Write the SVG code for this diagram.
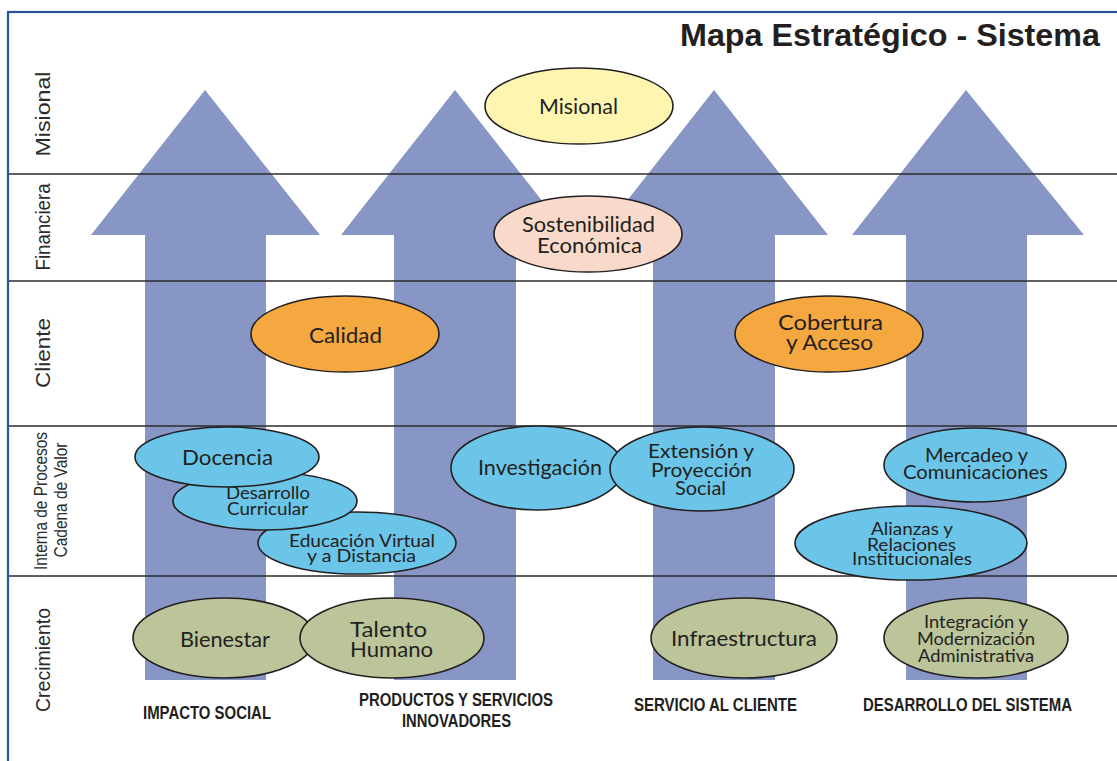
<svg xmlns="http://www.w3.org/2000/svg" width="1117" height="761" viewBox="0 0 1117 761">
<style>
.arrow{fill:#8796c4;stroke:none}
.row{stroke:#2b2b2b;stroke-width:1.3;fill:none}
.node{stroke:#231f20;stroke-width:1.6}
.yel{fill:#fdf5b0}.pea{fill:#f9d9c9}.ora{fill:#f5a840}.cya{fill:#6bc5e8}.oli{fill:#bcc59a}
.t{font-family:Lato,"Open Sans","Liberation Sans",sans-serif;fill:#231f20}
.lab{font-family:"Liberation Sans",Arial,sans-serif;fill:#2b2b2b;font-size:21px}
.bot{font-family:"Liberation Sans",Arial,sans-serif;font-weight:bold;fill:#231f20;font-size:18px}
</style>
<rect x="0" y="0" width="1117" height="761" fill="#ffffff"/>
<rect x="8" y="12" width="1130" height="770" fill="none" stroke="#2a56a0" stroke-width="2.2"/>
<text x="680" y="46" textLength="420" lengthAdjust="spacingAndGlyphs" style="font-family:'Liberation Sans',Arial,sans-serif;font-weight:bold;font-size:31.5px;fill:#231f20">Mapa Estratégico - Sistema</text>

<g id="arrows">
<polygon class="arrow" points="205,90 320,235 266,235 266,680 145,680 145,235 91,235"/>
<polygon class="arrow" points="455,90 569,235 516,235 516,680 394,680 394,235 341,235"/>
<polygon class="arrow" points="714,90 828,235 775,235 775,680 653,680 653,235 600,235"/>
<polygon class="arrow" points="966,90 1084,235 1027,235 1027,680 906,680 906,235 852,235"/>
</g>

<g id="rows">
<line class="row" x1="9" y1="174" x2="1117" y2="174"/>
<line class="row" x1="9" y1="281" x2="1117" y2="281"/>
<line class="row" x1="9" y1="426" x2="1117" y2="426"/>
<line class="row" x1="9" y1="576" x2="1117" y2="576"/>
</g>

<g id="row-labels">
<text class="lab" transform="translate(50,114) rotate(-90)" text-anchor="middle" textLength="85" lengthAdjust="spacingAndGlyphs">Misional</text>
<text class="lab" transform="translate(50,227) rotate(-90)" text-anchor="middle" textLength="87" lengthAdjust="spacingAndGlyphs">Financiera</text>
<text class="lab" transform="translate(50,353) rotate(-90)" text-anchor="middle" textLength="70" lengthAdjust="spacingAndGlyphs">Cliente</text>
<text class="lab" transform="translate(47,501) rotate(-90)" text-anchor="middle" style="font-size:18px" textLength="138" lengthAdjust="spacingAndGlyphs">Interna de Procesos</text>
<text class="lab" transform="translate(67,500) rotate(-90)" text-anchor="middle" style="font-size:18px" textLength="115" lengthAdjust="spacingAndGlyphs">Cadena de Valor</text>
<text class="lab" transform="translate(50,660) rotate(-90)" text-anchor="middle" textLength="104" lengthAdjust="spacingAndGlyphs">Crecimiento</text>
</g>

<g id="n-misional">
<ellipse class="node yel" cx="579" cy="106" rx="94" ry="38"/>
<text class="t" x="539" y="114" font-size="22" textLength="79" lengthAdjust="spacingAndGlyphs">Misional</text>
</g>
<g id="n-sostenibilidad">
<ellipse class="node pea" cx="588" cy="234" rx="94" ry="38"/>
<text class="t" x="522" y="232" font-size="21" textLength="133" lengthAdjust="spacingAndGlyphs">Sostenibilidad</text>
<text class="t" x="537" y="253" font-size="21" textLength="105" lengthAdjust="spacingAndGlyphs">Económica</text>
</g>
<g id="n-calidad">
<ellipse class="node ora" cx="345" cy="334" rx="94" ry="38"/>
<text class="t" x="309" y="343" font-size="22" textLength="73" lengthAdjust="spacingAndGlyphs">Calidad</text>
</g>
<g id="n-cobertura">
<ellipse class="node ora" cx="829" cy="334" rx="94" ry="38"/>
<text class="t" x="778" y="330" font-size="21" textLength="105" lengthAdjust="spacingAndGlyphs">Cobertura</text>
<text class="t" x="786" y="350" font-size="21" textLength="87" lengthAdjust="spacingAndGlyphs">y Acceso</text>
</g>
<g id="n-educacion">
<ellipse class="node cya" cx="357" cy="543" rx="99" ry="31"/>
<text class="t" x="289" y="547" font-size="17" textLength="146" lengthAdjust="spacingAndGlyphs">Educación Virtual</text>
<text class="t" x="307" y="562" font-size="17" textLength="109" lengthAdjust="spacingAndGlyphs">y a Distancia</text>
</g>
<g id="n-desarrollo">
<ellipse class="node cya" cx="265" cy="501" rx="92" ry="29"/>
<text class="t" x="226" y="499" font-size="17" textLength="84" lengthAdjust="spacingAndGlyphs">Desarrollo</text>
<text class="t" x="227" y="515" font-size="17" textLength="81" lengthAdjust="spacingAndGlyphs">Curricular</text>
</g>
<g id="n-docencia">
<ellipse class="node cya" cx="227" cy="457" rx="92" ry="30"/>
<text class="t" x="182" y="465" font-size="22" textLength="91" lengthAdjust="spacingAndGlyphs">Docencia</text>
</g>
<g id="n-investigacion">
<ellipse class="node cya" cx="537" cy="468" rx="86" ry="42"/>
<text class="t" x="478" y="475" font-size="21" textLength="124" lengthAdjust="spacingAndGlyphs">Investigación</text>
</g>
<g id="n-extension">
<ellipse class="node cya" cx="702" cy="469" rx="92" ry="42"/>
<text class="t" x="648" y="458" font-size="20" textLength="106" lengthAdjust="spacingAndGlyphs">Extensión y</text>
<text class="t" x="651" y="477" font-size="20" textLength="101" lengthAdjust="spacingAndGlyphs">Proyección</text>
<text class="t" x="675" y="495" font-size="20" textLength="51" lengthAdjust="spacingAndGlyphs">Social</text>
</g>
<g id="n-mercadeo">
<ellipse class="node cya" cx="975" cy="465" rx="91" ry="37"/>
<text class="t" x="925" y="462" font-size="19" textLength="103" lengthAdjust="spacingAndGlyphs">Mercadeo y</text>
<text class="t" x="903" y="479" font-size="19" textLength="145" lengthAdjust="spacingAndGlyphs">Comunicaciones</text>
</g>
<g id="n-alianzas">
<ellipse class="node cya" cx="911" cy="543" rx="116" ry="37"/>
<text class="t" x="871" y="535" font-size="17" textLength="82" lengthAdjust="spacingAndGlyphs">Alianzas y</text>
<text class="t" x="867" y="551" font-size="17" textLength="89" lengthAdjust="spacingAndGlyphs">Relaciones</text>
<text class="t" x="852" y="565" font-size="17" textLength="120" lengthAdjust="spacingAndGlyphs">Institucionales</text>
</g>
<g id="n-bienestar">
<ellipse class="node oli" cx="224" cy="638" rx="91" ry="40"/>
<text class="t" x="180" y="647" font-size="21" textLength="90" lengthAdjust="spacingAndGlyphs">Bienestar</text>
</g>
<g id="n-talento">
<ellipse class="node oli" cx="392" cy="638" rx="92" ry="40"/>
<text class="t" x="350" y="637" font-size="21" textLength="77" lengthAdjust="spacingAndGlyphs">Talento</text>
<text class="t" x="350" y="657" font-size="21" textLength="83" lengthAdjust="spacingAndGlyphs">Humano</text>
</g>
<g id="n-infraestructura">
<ellipse class="node oli" cx="744" cy="638" rx="93" ry="40"/>
<text class="t" x="671" y="646" font-size="21" textLength="146" lengthAdjust="spacingAndGlyphs">Infraestructura</text>
</g>
<g id="n-integracion">
<ellipse class="node oli" cx="976" cy="638" rx="92" ry="40"/>
<text class="t" x="924" y="628" font-size="17" textLength="104" lengthAdjust="spacingAndGlyphs">Integración y</text>
<text class="t" x="917" y="645" font-size="17" textLength="118" lengthAdjust="spacingAndGlyphs">Modernización</text>
<text class="t" x="918" y="662" font-size="17" textLength="116" lengthAdjust="spacingAndGlyphs">Administrativa</text>
</g>

<g id="column-labels">
<text class="bot" x="143" y="719" textLength="128" lengthAdjust="spacingAndGlyphs">IMPACTO SOCIAL</text>
<text class="bot" x="359" y="706" textLength="194" lengthAdjust="spacingAndGlyphs">PRODUCTOS Y SERVICIOS</text>
<text class="bot" x="402" y="727" textLength="109" lengthAdjust="spacingAndGlyphs">INNOVADORES</text>
<text class="bot" x="634" y="711" textLength="163" lengthAdjust="spacingAndGlyphs">SERVICIO AL CLIENTE</text>
<text class="bot" x="863" y="711" textLength="209" lengthAdjust="spacingAndGlyphs">DESARROLLO DEL SISTEMA</text>
</g>
</svg>
